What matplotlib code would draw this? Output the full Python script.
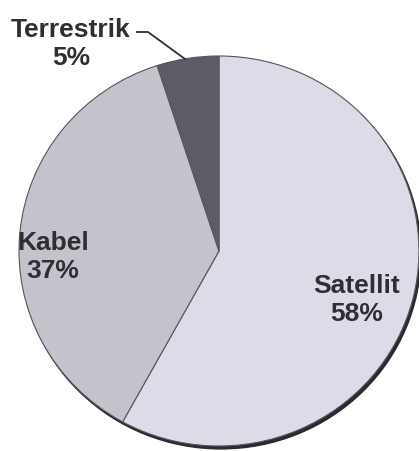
import matplotlib
matplotlib.use("Agg")
import matplotlib.pyplot as plt
from matplotlib.patches import Ellipse

categories = ["Satellit", "Kabel", "Terrestrik"]
values = [58, 37, 5]
colors = ["#dcdce8", "#c3c3cb", "#5c5c66"]

W, H = 419, 452
SY = 0.975  # vertical squash of the pie (pixels per data unit in y)
fig = plt.figure(figsize=(W / 100, H / 100), dpi=100)
ax = fig.add_axes([0, 0, 1, 1])


def py(y_from_top):
    return (H - y_from_top) / SY


cx, cy, r = 219, py(252), 200
# dark shadow rim at the bottom
ax.add_patch(Ellipse((cx + 2, cy - 3), 2 * r, 2 * r, color="#2a2a30", zorder=0))
ax.pie(values, colors=colors, startangle=90, counterclock=False,
       center=(cx, cy), radius=r,
       wedgeprops=dict(edgecolor="#55555c", linewidth=0.8), frame=True)
ax.set_aspect("auto")
ax.set_xlim(0, W)
ax.set_ylim(0, H / SY)
ax.axis("off")

font = dict(family="Liberation Sans", weight="bold", fontsize=19, color="#2e2e33",
            ha="center", va="center", linespacing=1.25)
ax.text(71, py(44), f"{categories[2]}\n{values[2]}%", **font)
ax.text(53, py(257), f"{categories[1]}\n{values[1]}%", **font)
ax.text(357, py(300), f"{categories[0]}\n{values[0]}%", **font)
ax.plot([137, 148, 185], [py(33), py(33), py(60)], color="#2e2e33", lw=1.3)

fig.savefig("out.png", dpi=100)
